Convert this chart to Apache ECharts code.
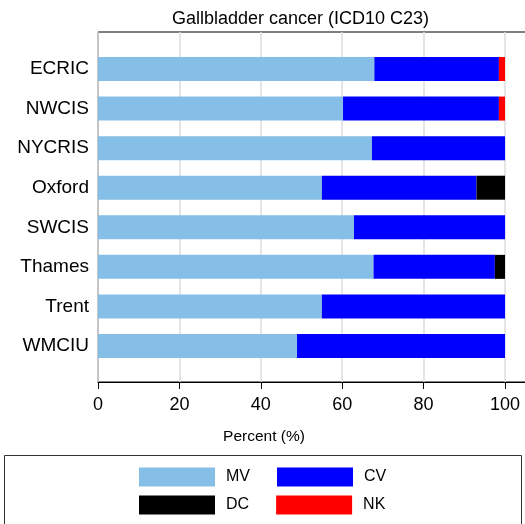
<!DOCTYPE html>
<html><head><meta charset="utf-8">
<script src="https://cdn.jsdelivr.net/npm/echarts@6/dist/echarts.min.js"></script>
<style>html,body{margin:0;padding:0;background:#fff}#c{width:525px;height:524px}</style>
</head><body><div id="c"></div>
<script>
var categories = ['ECRIC','NWCIS','NYCRIS','Oxford','SWCIS','Thames','Trent','WMCIU'];
var mvValues = [67.9, 60.2, 67.3, 55.0, 62.9, 67.7, 55.0, 48.9];
var cvValues = [30.6, 38.3, 32.7, 38.0, 37.1, 29.8, 45.0, 51.1];
var dcValues = [0, 0, 0, 7.0, 0, 2.5, 0, 0];
var nkValues = [1.5, 1.5, 0, 0, 0, 0, 0, 0];
var xTicks = [0, 20, 40, 60, 80, 100];
var titleText = 'Gallbladder cancer (ICD10 C23)';
var xName = 'Percent (%)';

var FONT = '"Liberation Sans", Arial, Helvetica, sans-serif';
var chart = echarts.init(document.getElementById('c'), null, {renderer: 'canvas'});
var gLeft = 98, gWidth = 435.5, xMax = 107;
function mk(name, data, color) {
  return {name: name, type: 'bar', stack: 't', data: data, xAxisIndex: 1, yAxisIndex: 1,
    barWidth: 24, itemStyle: {color: color}, emphasis: {disabled: true}, animation: false};
}
chart.setOption({
  animation: false,
  grid: [
    {left: gLeft, width: gWidth, top: 32, height: 350, show: true, borderColor: '#000', borderWidth: 1,
      backgroundColor: 'transparent', outerBoundsMode: 'none', containLabel: false},
    {left: gLeft, width: gWidth, top: 49.2, height: 316.6, outerBoundsMode: 'none', containLabel: false}
  ],
  xAxis: [
    {gridIndex: 0, type: 'value', min: 0, max: xMax, interval: 20,
      axisLine: {show: true, lineStyle: {color: '#000', width: 1}},
      axisTick: {show: true, length: 7, lineStyle: {color: '#000'}},
      axisLabel: {fontFamily: FONT, fontSize: 18, color: '#000', margin: 14, hideOverlap: false,
        formatter: function (v) { return xTicks.indexOf(v) >= 0 ? String(v) : ''; }},
      splitLine: {show: true, lineStyle: {color: '#dcdcdc', width: 1.5}}},
    {gridIndex: 1, type: 'value', min: 0, max: xMax, show: false}
  ],
  yAxis: [
    {gridIndex: 0, type: 'value', show: false},
    {gridIndex: 1, type: 'category', inverse: true, data: categories,
      axisLine: {show: false}, axisTick: {show: false},
      axisLabel: {fontFamily: FONT, fontSize: 19, color: '#000', margin: 9}}
  ],
  legend: [
    {data: ['MV', 'CV'], left: 139, top: 467.5, padding: 0, itemWidth: 76, itemHeight: 19, itemGap: 27, icon: 'rect',
      selectedMode: false, textStyle: {fontFamily: FONT, fontSize: 16, color: '#000', padding: [0, 0, 0, 6]}},
    {data: ['DC', 'NK'], left: 139, top: 495.5, padding: 0, itemWidth: 76, itemHeight: 19, itemGap: 27, icon: 'rect',
      selectedMode: false, textStyle: {fontFamily: FONT, fontSize: 16, color: '#000', padding: [0, 0, 0, 6]}}
  ],
  graphic: [
    {type: 'text', x: 300.5, y: 19, style: {text: titleText, font: '18px ' + FONT, fill: '#000', textAlign: 'center', textVerticalAlign: 'middle'}},
    {type: 'text', x: 264, y: 437, style: {text: xName, font: '15.5px ' + FONT, fill: '#000', textAlign: 'center', textVerticalAlign: 'middle'}},
    {type: 'rect', shape: {x: 4.5, y: 455.5, width: 517, height: 80}, style: {fill: 'none', stroke: '#333', lineWidth: 1}}
  ],
  series: [
    mk('MV', mvValues, '#85bfe8'),
    mk('CV', cvValues, '#0000ff'),
    mk('DC', dcValues, '#000000'),
    mk('NK', nkValues, '#ff0000')
  ]
});
</script></body></html>
